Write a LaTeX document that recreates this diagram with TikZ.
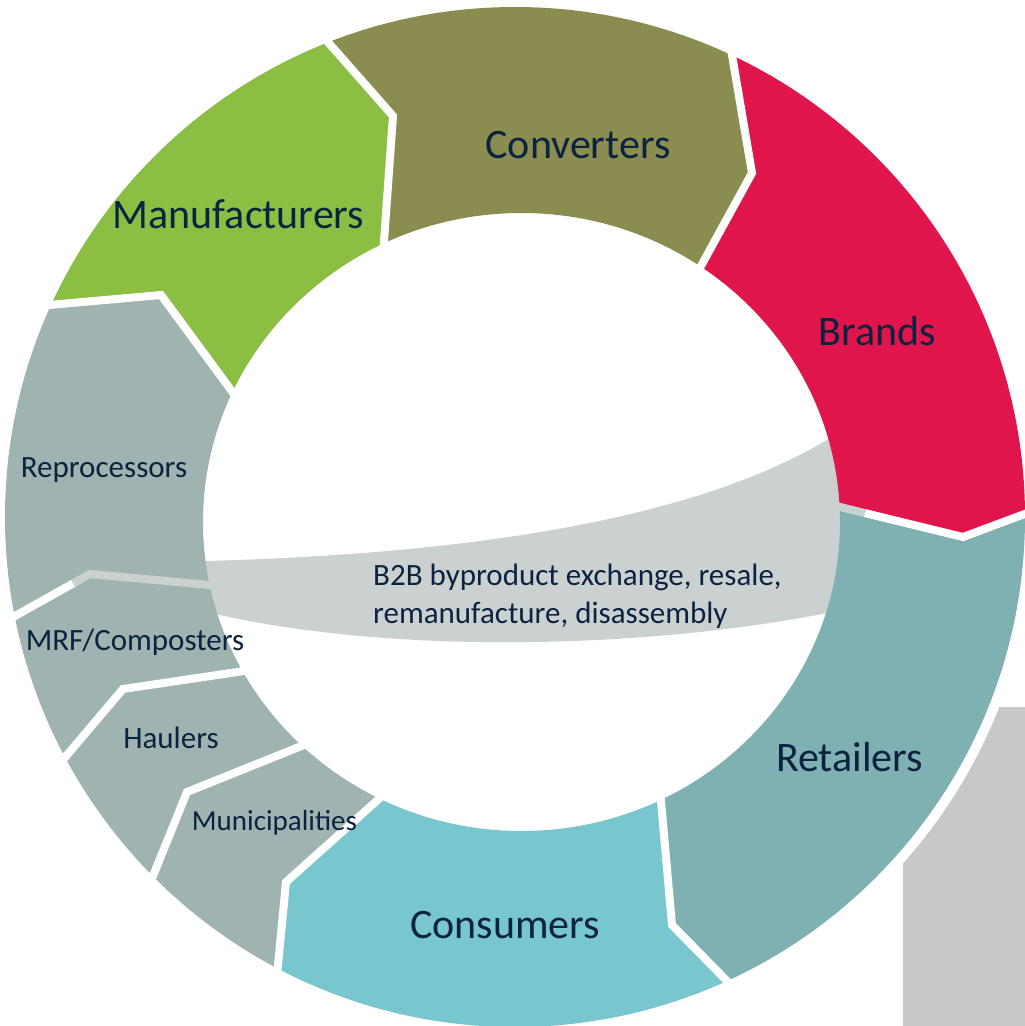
\documentclass[tikz,border=0pt]{standalone}
\usepackage{fontspec}
\setmainfont{Carlito}
\usetikzlibrary{calc}
\definecolor{manuf}{HTML}{8BBE43}
\definecolor{conv}{HTML}{8A8D4F}
\definecolor{brand}{HTML}{E0154C}
\definecolor{retail}{HTML}{7FB1B2}
\definecolor{consum}{HTML}{78C6CE}
\definecolor{grayseg}{HTML}{9FB3B0}
\definecolor{bandc}{HTML}{CBD1D1}
\definecolor{rectc}{HTML}{C7C8CA}
\definecolor{txtc}{HTML}{0C2340}
\newcommand{\ringseg}[3]{%
  \begin{scope}
    \clip (C) -- (i#2) -- (m#2) -- (e#2) -- (f#2) -- (f#3) -- (e#3) -- (m#3) -- (i#3) -- cycle;
    \fill[#1, even odd rule] (O) circle[radius=510] (I) ellipse[x radius=318.5, y radius=309];
  \end{scope}}
\tikzset{
  gapline/.style={draw=white, line width=8pt, line join=miter, line cap=butt},
  bandgap/.style={draw=bandc, line width=8pt, line join=miter, line cap=butt},
  biglabel/.style={font=\fontsize{42}{50}\selectfont, text=txtc, anchor=base, inner sep=0pt},
  smalllabel/.style={font=\fontsize{31}{38}\selectfont, text=txtc, anchor=base, inner sep=0pt},
  bandlabel/.style={font=\fontsize{31}{38}\selectfont, text=txtc, anchor=base west, inner sep=0pt}
}
\begin{document}
\begin{tikzpicture}[x=1pt,y=-1pt]
\useasboundingbox (0,0) rectangle (1025,1026);
\coordinate (C) at (519,521);
\coordinate (O) at (515,517);
\coordinate (I) at (521.5,522);
% boundaries: outer, mid, inner
\coordinate (o1) at (15,616);   \coordinate (m1) at (90,574);  \coordinate (i1) at (210,585);
\coordinate (o2) at (67,755);   \coordinate (m2) at (123,689); \coordinate (i2) at (244,671);
\coordinate (o3) at (155,871);  \coordinate (m3) at (187,792); \coordinate (i3) at (304,745);
\coordinate (o4) at (278,965);  \coordinate (m4) at (286,882); \coordinate (i4) at (381,797);
\coordinate (o5) at (726,980);  \coordinate (m5) at (672,925); \coordinate (i5) at (661,801);
\coordinate (o6) at (1030,512); \coordinate (m6) at (963,537); \coordinate (i6) at (840,507);
\coordinate (o7) at (732,55);   \coordinate (m7) at (752,173); \coordinate (i7) at (701,266);
\coordinate (o8) at (327,41);   \coordinate (m8) at (393,116); \coordinate (i8) at (384,241);
\coordinate (o9) at (49,305);   \coordinate (m9) at (161,295); \coordinate (i9) at (231,390);
\foreach \k in {1,...,9}{
  \coordinate (e\k) at ($(m\k)!1.4!(o\k)$);
  \coordinate (f\k) at ($(C)!2.2!(o\k)$);
  \coordinate (g\k) at ($(i\k)!-8pt!(m\k)$);
}
\coordinate (s1) at (73,583.5);
\coordinate (s6) at (865,513.1);

% background rectangle, hidden near the ring
\fill[rectc] (903,707) rectangle (1025,1026);
\fill[white] (O) circle[radius=520];

% B2B band (under the ring)
\fill[bandc] (150,566) -- (207,561) .. controls (420,555) and (680,530) .. (830,438)
  -- (880,410) -- (880,610) -- (827,613) .. controls (650,648) and (400,655) .. (220,615)
  -- (150,605) -- cycle;

% ring segments
\ringseg{grayseg}{1}{9}
\ringseg{manuf}{9}{8}
\ringseg{conv}{8}{7}
\ringseg{brand}{7}{6}
\ringseg{retail}{6}{5}
\ringseg{consum}{5}{4}
\ringseg{grayseg}{4}{3}
\ringseg{grayseg}{3}{2}
\ringseg{grayseg}{2}{1}

% gaps
\foreach \k in {2,3,4,5,7,8,9}{
  \draw[gapline] (g\k) -- (i\k) -- (m\k) -- (o\k) -- (e\k);
}
\draw[bandgap] (g1) -- (i1) -- (m1) -- (s1);
\draw[gapline] (s1) -- (o1) -- (e1);
\draw[bandgap] (g6) -- (i6) -- (s6);
\draw[gapline] (s6) -- (m6) -- (o6) -- (e6);

% labels
\node[biglabel] (manufacturers) at (238.5,228) {Manufacturers};
\node[biglabel] (converters) at (578,158) {Converters};
\node[biglabel] (brands) at (877.5,345) {Brands};
\node[biglabel] (retailers) at (849.5,771) {Retailers};
\node[biglabel] (consumers) at (505,938) {Consumers};
\node[smalllabel] (reprocessors) at (104,477) {Reprocessors};
\node[smalllabel] (mrf) at (135,650) {MRF/Composters};
\node[smalllabel] (haulers) at (171,748) {Haulers};
\node[smalllabel, font=\fontsize{29}{35}\selectfont] (municipalities) at (274.5,830) {Municipalities};
\node[bandlabel] (bandA) at (373,585) {B2B byproduct exchange, resale,};
\node[bandlabel] (bandB) at (373,623) {remanufacture, disassembly};
\end{tikzpicture}
\end{document}
